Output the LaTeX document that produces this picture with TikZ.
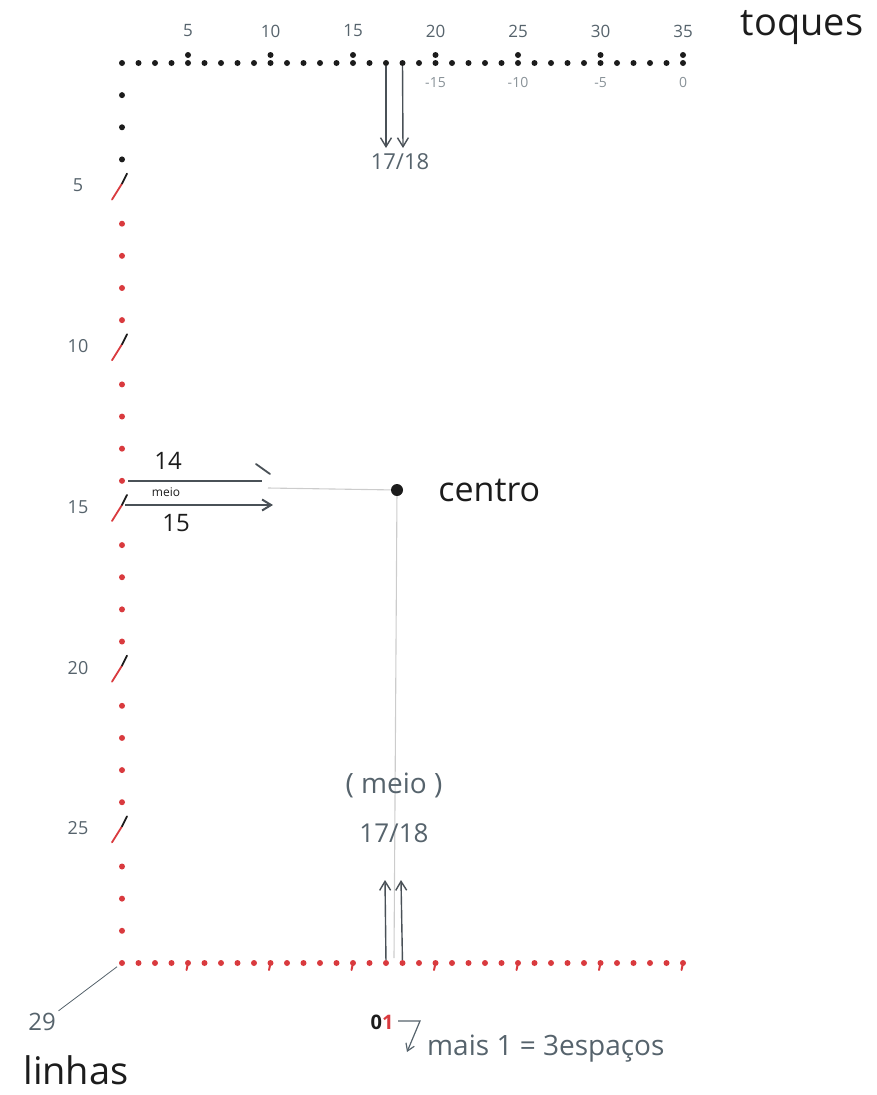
\documentclass[tikz,border=0pt]{standalone}
\usepackage{fontspec}
\setmainfont{Open Sans}
\usetikzlibrary{positioning,calc,arrows.meta}
\definecolor{ink}{HTML}{1C1C1C}
\definecolor{redink}{HTML}{D93A3E}
\definecolor{pencil}{HTML}{56636C}
\definecolor{slate}{HTML}{4A5157}

\begin{document}
\begin{tikzpicture}[
    x=1pt, y=-1pt,
    node distance=10pt,
    kdot/.style={circle, fill=ink, inner sep=0pt, minimum size=6pt},
    rdot/.style={circle, fill=redink, inner sep=0pt, minimum size=6pt},
    num/.style={text=pencil, inner sep=1pt, font=\fontsize{17}{17}\selectfont},
    neg/.style={text=pencil!70, inner sep=1pt, font=\fontsize{14}{14}\selectfont},
    hand/.style={text=ink, inner sep=1pt},
    arr/.style={draw=slate, line width=1.4pt, -{Straight Barb[length=9pt,width=11pt]}},
    guide/.style={draw=gray!40, line width=1.1pt},
    penmark/.style={line width=1.8pt, line cap=round}
]
    \useasboundingbox (0,0) rectangle (877,1095);

    % toques (top row)
    \foreach \i in {1,...,35} {
        \node[kdot] (t\i) at ({122+(\i-1)*16.5},63) {};
    }
    \foreach \i in {5,10,...,35} {
        \node[kdot] (td\i) at ({122+(\i-1)*16.5},55) {};
        \node[num] (tn\i) at ({122+(\i-1)*16.5},31) {\i};
    }
    \node[neg, below=10pt of t20] (n15) {-15};
    \node[neg, below=10pt of t25] (n10) {-10};
    \node[neg, below=10pt of t30] (n5) {-5};
    \node[neg, below=10pt of t35] (n0) {0};
    \node[hand, font=\fontsize{38}{38}\selectfont] (toques) at (802,28) {toques};

    % linhas (left column)
    \foreach \i in {2,...,28} {
        \pgfmathtruncatemacro{\m}{mod(\i,5)}
        \coordinate (l\i) at (122,{63+(\i-1)*32.14});
        \ifnum\m=0
            \draw[penmark, redink] ($(l\i)+(-10,8)$) -- ($(l\i)+(0,-8)$);
            \draw[penmark, ink] ($(l\i)+(0,-8)$) -- ($(l\i)+(5,-18)$);
            \node[num, font=\fontsize{18}{18}\selectfont] (ln\i) at ($(l\i)+(-44,-6)$) {\i};
        \else
            \ifnum\i<5 \node[kdot] (ld\i) at (l\i) {};
            \else \node[rdot] (ld\i) at (l\i) {};
            \fi
        \fi
    }

    % bottom row
    \foreach \i in {1,...,35} {
        \node[rdot] (b\i) at ({122+(\i-1)*16.5},963) {};
    }
    \foreach \i in {5,10,...,35} {
        \draw[penmark, redink, line width=2pt] (b\i.center) -- ++(-1.5,7);
    }

    % top arrows 17/18
    \coordinate (a17) at (386,148);
    \coordinate (a18) at (403,148);
    \draw[arr] (t17) -- (a17);
    \draw[arr] (t18) -- (a18);
    \node[num, font=\fontsize{22}{22}\selectfont] (top1718) at (400,162) {17/18};

    % centro
    \node[circle, fill=ink, inner sep=0pt, minimum size=12pt] (centro) at (397,490) {};
    \node[hand, right=34pt of centro, font=\fontsize{34}{34}\selectfont] (centrolbl) {centro};
    \coordinate (g1) at (268,488);
    \coordinate (g2) at (394,958);
    \draw[guide] (g1) -- (centro);
    \draw[guide] (centro) -- (g2);

    % meio between 14 and 15
    \coordinate (m14s) at (128,481);
    \coordinate (m14e) at (262,481);
    \coordinate (k1) at (256,464);
    \coordinate (k2) at (270,474);
    \draw[slate, line width=2pt] (m14s) -- (m14e);
    \draw[slate, penmark] (k1) -- (k2);
    \coordinate (m15s) at (125,505);
    \coordinate (m15e) at (273,505);
    \draw[arr, line width=2pt] (m15s) -- (m15e);
    \node[hand, font=\fontsize{24}{24}\selectfont] (l14) at (168,461) {14};
    \node[hand, font=\fontsize{12}{12}\selectfont] (lmeio) at (166,492) {meio};
    \node[hand, font=\fontsize{24}{24}\selectfont] (l15) at (176,523) {15};

    % bottom arrows 17/18
    \coordinate (u17) at (385,880);
    \coordinate (u18) at (401,880);
    \draw[arr] (b17) -- (u17);
    \draw[arr] (b18) -- (u18);
    \node[num, font=\fontsize{28}{28}\selectfont] (meio) at (394,785) {( meio )};
    \node[num, font=\fontsize{26}{26}\selectfont] (bot1718) at (394,833) {17/18};

    % linhas / 29
    \node[num, font=\fontsize{24}{24}\selectfont] (n29) at (42,1022) {29};
    \draw[pencil, line width=0.8pt, shorten <=2pt, shorten >=3pt] (n29.north east) -- (b1);
    \node[hand, font=\fontsize{38}{38}\selectfont] (linhas) at (76,1070) {linhas};

    % 01 mais 1
    \node[hand, font=\fontsize{20}{20}\selectfont\bfseries] (o1) at (382,1022) {0{\color{redink}1}};
    \coordinate (h1) at (398,1021);
    \coordinate (h2) at (420,1021);
    \coordinate (h3) at (407,1052);
    \draw[pencil, line width=1.2pt, -{Straight Barb[length=7pt,width=9pt]}] (h1) -- (h2) -- (h3);
    \node[num, font=\fontsize{28}{28}\selectfont, anchor=west] (mais) at (426,1049) {mais 1 = 3espaços};
\end{tikzpicture}
\end{document}
